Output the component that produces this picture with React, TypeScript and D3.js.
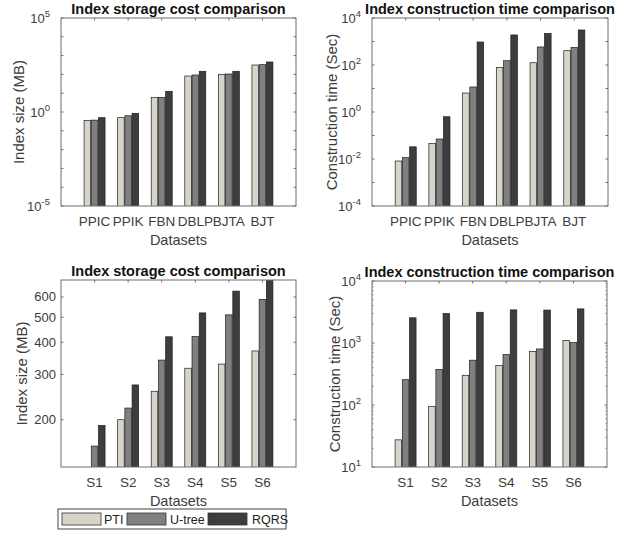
import * as d3 from 'd3';

const seriesNames = ['PTI', 'U-tree', 'RQRS'];
const seriesColors = ['#d8d4cb', '#808080', '#3d3d3d'];

const datasetsA = ['PPIC', 'PPIK', 'FBN', 'DBLP', 'BJTA', 'BJT'];
const datasetsB = ['S1', 'S2', 'S3', 'S4', 'S5', 'S6'];

// top-left: index size (MB)
const storageA_PTI = [0.35, 0.5, 5.8, 82, 101, 316];
const storageA_Utree = [0.37, 0.63, 6, 93, 105, 330];
const storageA_RQRS = [0.5, 0.85, 12.6, 146, 146, 457];

// top-right: construction time (Sec)
const timeA_PTI = [0.0082, 0.045, 6.4, 79, 125, 405];
const timeA_Utree = [0.0114, 0.071, 11.6, 152, 585, 560];
const timeA_RQRS = [0.033, 0.63, 950, 1900, 2200, 3090];

// bottom-left: index size (MB)
const storageB_PTI = [120, 200, 258, 317, 329, 370];
const storageB_Utree = [158, 222, 341, 421, 511, 587];
const storageB_RQRS = [190, 273, 420, 520, 632, 720];

// bottom-right: construction time (Sec)
const timeB_PTI = [27.4, 94.6, 301, 434, 728, 1092];
const timeB_Utree = [256, 375, 528, 652, 802, 1014];
const timeB_RQRS = [2550, 2985, 3130, 3420, 3400, 3550];

const ticksTL = [1e-5, 1e0, 1e5];
const ticksTR = [1e-4, 1e-2, 1e0, 1e2, 1e4];
const ticksBL = [200, 300, 400, 500, 600];
const ticksBR = [1e1, 1e2, 1e3, 1e4];

const FONT = 'Arial, "Liberation Sans", Helvetica, sans-serif';
const TEXT = '#3c3c3c';
const AXIS = '#6e6e6e';

type PanelProps = {
  id: string;
  left: number; top: number; width: number; height: number;
  title: string; ylabel: string; ylabelX: number;
  categories: string[];
  series: number[][];
  domain: [number, number];
  labelTicks: number[];
  markTicks: number[];
  minorTicks?: number[];
  pow: boolean;
};

function Panel(p: PanelProps) {
  const x = d3.scaleLinear().domain([0, 7]).range([p.left, p.left + p.width]);
  const y = d3.scaleLog().domain(p.domain).range([p.top + p.height, p.top]);
  const bottom = p.top + p.height;
  const pitch = 0.215;
  const bw = x(0.195) - x(0);
  const cx = p.left + p.width / 2;
  const right = p.left + p.width;

  return (
    <g>
      <defs>
        <clipPath id={p.id}>
          <rect x={p.left} y={p.top} width={p.width} height={p.height} />
        </clipPath>
      </defs>
      <rect x={p.left} y={p.top} width={p.width} height={p.height} fill="#fff" />
      <g clipPath={`url(#${p.id})`}>
        {p.series.map((vals, s) =>
          vals.map((v, i) => {
            const xc = x(i + 1 + (s - 1) * pitch);
            const yt = Math.max(p.top - 2, y(v));
            const h = bottom - yt;
            if (h <= 0) return null;
            return (
              <rect key={`${s}-${i}`} x={xc - bw / 2} y={yt} width={bw} height={h + 1}
                fill={seriesColors[s]} stroke="#1e1e1e" strokeWidth={0.7} />
            );
          })
        )}
      </g>
      {/* frame */}
      <rect x={p.left} y={p.top} width={p.width} height={p.height} fill="none" stroke={AXIS} strokeWidth={1} />
      {/* x ticks */}
      {p.categories.map((c, i) => (
        <g key={c}>
          <line x1={x(i + 1)} x2={x(i + 1)} y1={bottom} y2={bottom - 2.5} stroke={AXIS} />
          <line x1={x(i + 1)} x2={x(i + 1)} y1={p.top} y2={p.top + 2.5} stroke={AXIS} />
          <text x={x(i + 1)} y={bottom + 19.5} textAnchor="middle" fontSize={13.5} fill={TEXT} fontFamily={FONT}>{c}</text>
        </g>
      ))}
      {/* y ticks */}
      {p.markTicks.map(t => (
        <g key={`m${t}`}>
          <line x1={p.left} x2={p.left + 2.5} y1={y(t)} y2={y(t)} stroke={AXIS} />
          <line x1={right} x2={right - 2.5} y1={y(t)} y2={y(t)} stroke={AXIS} />
        </g>
      ))}
      {(p.minorTicks || []).map(t => (
        <g key={`n${t}`}>
          <line x1={p.left} x2={p.left + 1.5} y1={y(t)} y2={y(t)} stroke={AXIS} strokeWidth={0.8} />
          <line x1={right} x2={right - 1.5} y1={y(t)} y2={y(t)} stroke={AXIS} strokeWidth={0.8} />
        </g>
      ))}
      {p.labelTicks.map(t => (
        p.pow ? (
          <text key={`l${t}`} x={p.left - 11} y={y(t) + 5} textAnchor="end" fontSize={13} fill={TEXT} fontFamily={FONT}>
            10
            <tspan dy={-6} fontSize={9.5}>{Math.round(Math.log10(t))}</tspan>
          </text>
        ) : (
          <text key={`l${t}`} x={p.left - 5} y={y(t) + 4.5} textAnchor="end" fontSize={13} fill={TEXT} fontFamily={FONT}>{t}</text>
        )
      ))}
      <text x={cx} y={p.top - 4.5} textAnchor="middle" fontSize={14.5} fontWeight="bold" fill="#111" fontFamily={FONT}>{p.title}</text>
      <text x={cx} y={bottom + 38.5} textAnchor="middle" fontSize={14.5} fill={TEXT} fontFamily={FONT}>Datasets</text>
      <text transform={`translate(${p.ylabelX},${p.top + p.height / 2}) rotate(-90)`} textAnchor="middle"
        fontSize={15} fill={TEXT} fontFamily={FONT}>{p.ylabel}</text>
    </g>
  );
}

function decades(lo: number, hi: number) {
  return d3.range(lo, hi + 1).map(e => Math.pow(10, e));
}

export default function App() {
  const minorBR = d3.range(1, 4).flatMap(e => d3.range(2, 10).map(m => m * Math.pow(10, e)));
  const legendX = 58, legendY = 509;
  const items = [
    { sw: 62, tx: 104 },
    { sw: 127, tx: 170 },
    { sw: 208, tx: 252 },
  ];
  return (
    <svg width={634} height={534} style={{ position: 'absolute', left: 0, top: 0, background: '#fff' }}>
      <rect width={634} height={534} fill="#fff" />
      <Panel id="c1" left={61} top={18} width={235} height={188}
        title="Index storage cost comparison" ylabel="Index size (MB)" ylabelX={24}
        categories={datasetsA} series={[storageA_PTI, storageA_Utree, storageA_RQRS]}
        domain={[1e-5, 1e5]} labelTicks={ticksTL} markTicks={decades(-5, 5)} pow />
      <Panel id="c2" left={372} top={18} width={236} height={188}
        title="Index construction time comparison" ylabel="Construction time (Sec)" ylabelX={337}
        categories={datasetsA} series={[timeA_PTI, timeA_Utree, timeA_RQRS]}
        domain={[1e-4, 1e4]} labelTicks={ticksTR} markTicks={decades(-4, 4)} pow />
      <Panel id="c3" left={61} top={280} width={235} height={187}
        title="Index storage cost comparison" ylabel="Index size (MB)" ylabelX={27}
        categories={datasetsB} series={[storageB_PTI, storageB_Utree, storageB_RQRS]}
        domain={[131, 698]} labelTicks={ticksBL} markTicks={ticksBL} pow={false} />
      <Panel id="c4" left={372} top={281} width={235} height={186}
        title="Index construction time comparison" ylabel="Construction time (Sec)" ylabelX={340}
        categories={datasetsB} series={[timeB_PTI, timeB_Utree, timeB_RQRS]}
        domain={[1e1, 1e4]} labelTicks={ticksBR} markTicks={ticksBR} minorTicks={minorBR} pow />
      {/* legend */}
      <g>
        <rect x={legendX} y={legendY} width={228} height={20} fill="#fff" stroke="#444" strokeWidth={1} />
        {seriesNames.map((n, i) => (
          <g key={n}>
            <rect x={items[i].sw} y={legendY + 4} width={39} height={12} fill={seriesColors[i]} stroke="#333" strokeWidth={0.8} />
            <text x={items[i].tx} y={legendY + 15} fontSize={12.5} fill="#222" fontFamily={FONT}>{n}</text>
          </g>
        ))}
      </g>
    </svg>
  );
}
